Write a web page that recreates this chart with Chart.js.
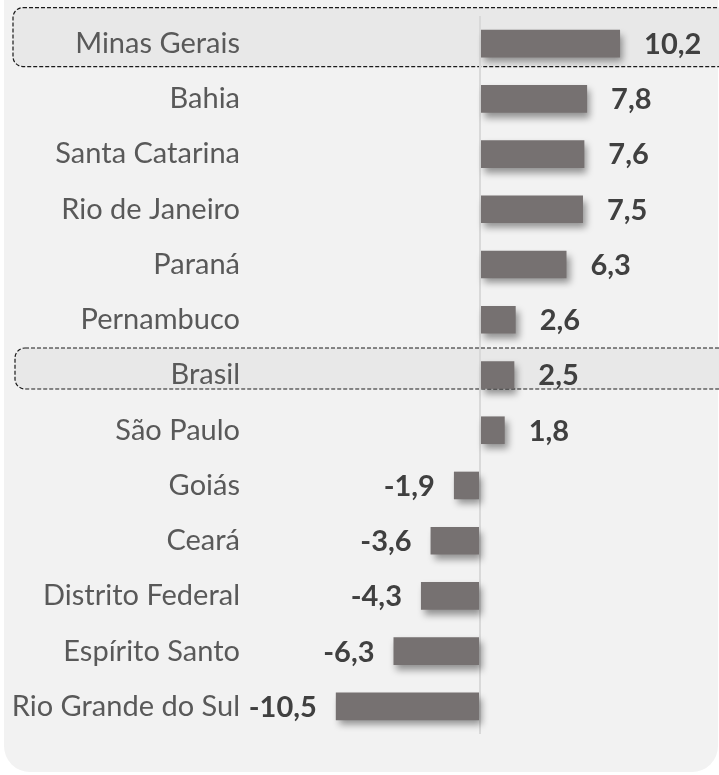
<!DOCTYPE html>
<html lang="pt-BR">
<head>
  <meta charset="UTF-8" />
  <title>Variação por estado</title>
  <script src="https://cdn.jsdelivr.net/npm/chart.js"></script>
  <style>
    html, body {
      margin: 0;
      padding: 0;
      background: #fff;
    }
    #wrap {
      width: 719px;
      height: 775px;
      position: relative;
    }
  </style>
</head>
<body>
  <div id="wrap"><canvas id="chart" width="719" height="775"></canvas></div>

  <script>
    const states = [
      'Minas Gerais', 'Bahia', 'Santa Catarina', 'Rio de Janeiro', 'Paraná',
      'Pernambuco', 'Brasil', 'São Paulo', 'Goiás', 'Ceará',
      'Distrito Federal', 'Espírito Santo', 'Rio Grande do Sul'
    ];
    const values = [10.2, 7.8, 7.6, 7.5, 6.3, 2.6, 2.5, 1.8, -1.9, -3.6, -4.3, -6.3, -10.5];
    const highlighted = ['Minas Gerais', 'Brasil'];

    const FONT = 'Lato, "Open Sans", sans-serif';

    // panel background + dashed highlight boxes, drawn under the grid
    const panelPlugin = {
      id: 'panel',
      beforeDraw(chart) {
        const c = chart.ctx;
        const y = chart.scales.y;
        c.save();
        c.fillStyle = '#f2f2f2';
        c.beginPath();
        c.roundRect(4, -40, 714, 812, 26);
        c.fill();

        highlighted.forEach(name => {
          const i = states.indexOf(name);
          const cy = y.getPixelForValue(i);
          const top = i === 0 ? cy - 36 : cy - 27;
          const bottom = i === 0 ? cy + 23 : cy + 14;
          const left = i === 0 ? 13 : 15;
          c.beginPath();
          c.roundRect(left, top, 740 - left, bottom - top, 10);
          c.fillStyle = '#e8e8e8';
          c.fill();
          c.setLineDash([4, 2]);
          c.lineWidth = 1.2;
          c.strokeStyle = '#1a1a1a';
          c.stroke();
          c.setLineDash([]);
        });
        c.restore();
      }
    };

    const shadowPlugin = {
      id: 'barShadow',
      beforeDatasetsDraw(chart) {
        const c = chart.ctx;
        c.save();
        c.shadowColor = 'rgba(0,0,0,0.4)';
        c.shadowBlur = 7;
        c.shadowOffsetX = 3;
        c.shadowOffsetY = 5;
      },
      afterDatasetsDraw(chart) {
        chart.ctx.restore();
      }
    };

    const valueLabels = {
      id: 'valueLabels',
      afterDraw(chart) {
        const c = chart.ctx;
        const meta = chart.getDatasetMeta(0);
        c.save();
        c.font = 'bold 29px ' + FONT;
        c.fillStyle = '#404040';
        c.textBaseline = 'middle';
        meta.data.forEach((bar, i) => {
          const v = values[i];
          const txt = v.toFixed(1).replace('.', ',');
          if (v >= 0) {
            c.textAlign = 'left';
            c.fillText(txt, bar.x + 24, bar.y + 1);
          } else {
            c.textAlign = 'right';
            c.fillText(txt, bar.x - 19, bar.y + 1);
          }
        });
        c.restore();
      }
    };

    new Chart(document.getElementById('chart'), {
      type: 'bar',
      data: {
        labels: states,
        datasets: [{
          data: values,
          backgroundColor: '#767171',
          borderWidth: 0,
          barPercentage: 0.5,
          categoryPercentage: 1
        }]
      },
      options: {
        indexAxis: 'y',
        responsive: false,
        animation: false,
        layout: { padding: { top: 16, bottom: 41, left: 0, right: 9 } },
        plugins: {
          legend: { display: false },
          tooltip: { enabled: false }
        },
        scales: {
          x: {
            min: -16.75,
            max: 16.75,
            ticks: { display: false, stepSize: 1 },
            grid: {
              drawTicks: false,
              lineWidth: 2,
              color: ctx => ctx.tick && ctx.tick.value === 0 ? '#d9d9d9' : 'rgba(0,0,0,0)'
            },
            border: { display: false },
            afterFit: s => { s.height = 0; s.paddingLeft = 0; s.paddingRight = 0; }
          },
          y: {
            grid: { display: false, drawTicks: false },
            border: { display: false },
            ticks: {
              color: '#595959',
              font: { family: FONT, size: 29 },
              padding: 10
            },
            afterFit: s => { s.width = 250; s.paddingTop = 0; s.paddingBottom = 0; }
          }
        }
      },
      plugins: [panelPlugin, shadowPlugin, valueLabels]
    });
  </script>
</body>
</html>
